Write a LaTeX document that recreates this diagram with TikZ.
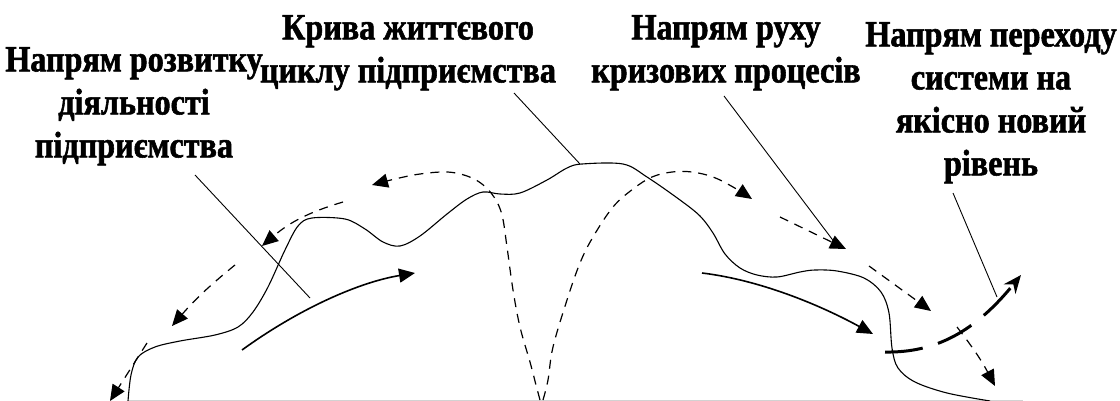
\documentclass[tikz,border=0pt]{standalone}
\usepackage{fontspec}
\setmainfont{Liberation Serif}
\newfontfamily\labfont[UprightFont={* Bold}, FakeStretch=0.87, FakeBold=1.5]{Liberation Serif}
\usetikzlibrary{arrows.meta}
\begin{document}
\begin{tikzpicture}[x=1pt,y=-1pt,
  lab/.style={font=\labfont\fontsize{37}{43}\selectfont, align=center, anchor=north, inner sep=0pt},
  lifecurve/.style={line width=1.1pt},
  leader/.style={line width=0.9pt},
  crisis/.style={line width=1.2pt, dash pattern=on 9pt off 7pt, -{Triangle[length=16pt,width=14pt]}},
  devarrow/.style={line width=1.6pt, -{Triangle[length=16pt,width=14pt]}},
  transarrow/.style={line width=3pt, dash pattern=on 38pt off 16pt, -{Stealth[length=18pt,width=15pt]}}
]
\useasboundingbox (0,0) rectangle (1120,401);
\fill[white] (0,0) rectangle (1120,401);

% labels
\node[lab] (dev) at (134,47) {Напрям розвитку\\діяльності\\підприємства};
\node[lab] (life) at (408,15) {Крива життєвого\\циклу підприємства};
\node[lab] (crisis) at (726,15) {Напрям руху\\кризових процесів};
\node[lab] (trans) at (991,22) {Напрям переходу\\системи на\\якісно новий\\рівень};

% axis remnant
\draw[gray!35, line width=0.8pt] (128,400.5) -- (1023,400.5);

% life cycle curve
\draw[lifecurve] plot[smooth, tension=0.55] coordinates {
 (128,401) (131,375) (138,357) (155,347) (180,341) (215,335) (238,327) (253,312)
 (268,287) (285,250) (298,226) (312,218) (345,219) (365,229) (383,242) (400,246)
 (420,236) (447,214) (467,199) (483,192) (500,194) (520,193) (547,180) (567,168)
 (582,164) (623,164) (647,177) (680,200) (700,216) (713,233) (725,254) (740,268)
 (757,275) (777,277) (800,272) (815,270) (837,271) (864,278) (881,292) (889,313)
 (892,348) (898,368) (915,382) (947,393) (990,401)};

% crisis arrows (left)
\draw[crisis] plot[smooth, tension=0.6] coordinates {
 (540,400) (536,385) (530,362) (520,327) (513,290) (507,247) (502,215) (494,197)
 (482,184) (467,176) (447,172) (420,174) (395,179) (372,185)};
\coordinate (c2s) at (343,202); \coordinate (c2e) at (262,246);
\draw[crisis] (c2s) to[bend right=12] (c2e);
\coordinate (c3s) at (235,265); \coordinate (c3e) at (172,326);
\draw[crisis] (c3s) to[bend right=5] (c3e);
\coordinate (c4s) at (147,343); \coordinate (c4e) at (110,401);
\draw[crisis] (c4s) -- (c4e);

% crisis arrows (right)
\draw[crisis] plot[smooth, tension=0.6] coordinates {
 (543,400) (548,380) (553,347) (567,300) (580,263) (593,237) (613,207) (633,189)
 (652,177) (672,172) (692,172) (713,177) (733,187) (752,199)};
\coordinate (c6s) at (780,217); \coordinate (c6e) at (846,249);
\draw[crisis] (c6s) -- (c6e);
\coordinate (c7s) at (869,266); \coordinate (c7e) at (931,311);
\draw[crisis] (c7s) -- (c7e);
\coordinate (c8s) at (957,327); \coordinate (c8e) at (995,386);
\draw[crisis] (c8s) to[bend left=5] (c8e);

% development arrows
\coordinate (d1s) at (242,350); \coordinate (d1e) at (415,273);
\draw[devarrow] (d1s) .. controls (300,308) and (360,282) .. (d1e);
\coordinate (d2s) at (702,273); \coordinate (d2e) at (873,334);
\draw[devarrow] (d2s) .. controls (760,280) and (820,305) .. (d2e);

% transition arrow
\coordinate (t1s) at (885,352); \coordinate (t1e) at (1021,275);
\draw[transarrow] (t1s) .. controls (935,353) and (975,332) .. (t1e);

% leaders
\coordinate (l1s) at (195,175); \coordinate (l1e) at (310,298);
\draw[leader] (l1s) -- (l1e);
\coordinate (l2s) at (514,93); \coordinate (l2e) at (580,164);
\draw[leader] (l2s) -- (l2e);
\coordinate (l3s) at (724,96); \coordinate (l3e) at (835,243);
\draw[leader] (l3s) -- (l3e);
\coordinate (l4s) at (953,193); \coordinate (l4e) at (997,297);
\draw[leader] (l4s) -- (l4e);
\end{tikzpicture}
\end{document}
